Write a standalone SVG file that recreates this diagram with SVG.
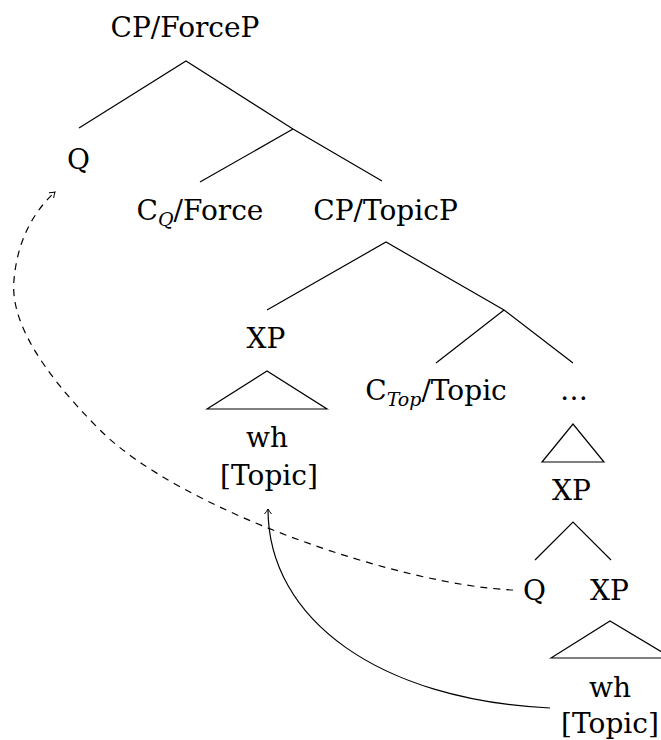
<svg xmlns="http://www.w3.org/2000/svg" width="661" height="740" viewBox="0 0 661 740">
<style>
text{font-family:"DejaVu Serif","Liberation Serif",serif;font-size:28px;fill:#000;text-anchor:middle}
.sub{font-size:19px;font-style:italic}
.e{stroke:#000;stroke-width:1.2;fill:none}
.tri{stroke:#000;stroke-width:1.2;fill:none;stroke-linejoin:miter}
.mv{stroke:#000;stroke-width:1.2;fill:none}
.dash{stroke-dasharray:7,6}
</style>
<defs>
<marker id="ah" markerWidth="10" markerHeight="10" refX="0" refY="0" viewBox="-6 -5 8 10" orient="auto" markerUnits="userSpaceOnUse">
<path d="M-5,-3.5 Q-2,-1 0,0 Q-2,1 -5,3.5" fill="none" stroke="#000" stroke-width="1"/>
</marker>
</defs>
<rect width="661" height="740" fill="#fff"/>
<g id="edges">
<path class="e" d="M79,128 L186,61 L293,129 L382,181"/>
<path class="e" d="M200,182 L293,129"/>
<path class="e" d="M267,310 L386,242 L504,310 L573,363"/>
<path class="e" d="M436,363 L504,310"/>
<path class="tri" d="M207,409 L267,371 L327,409 Z"/>
<path class="tri" d="M542,462 L573,424 L604,462 Z"/>
<path class="e" d="M535,560 L573,522 L611,560"/>
<path class="tri" d="M551,658 L610,621 L672,658 Z"/>
</g>
<g id="movement">
<path class="mv dash" d="M513,590 C400,585 180,510 100,430 C40,370 10,320 14,280 C17,245 30,215 55,192" marker-end="url(#ah)"/>
<path class="mv" d="M550,708 C380,700 268,620 268,509" marker-end="url(#ah)"/>
</g>
<g id="n-cpforce"><text x="185" y="37">CP/ForceP</text></g>
<g id="n-q-top"><text x="78.5" y="169">Q</text></g>
<g id="n-cq"><text x="200" y="220">C<tspan class="sub" dy="6">Q</tspan><tspan dy="-6">/Force</tspan></text></g>
<g id="n-cptopic"><text x="385.5" y="220">CP/TopicP</text></g>
<g id="n-xp1"><text x="266" y="348">XP</text></g>
<g id="n-wh1"><text x="267" y="447">wh</text><text x="269" y="485">[Topic]</text></g>
<g id="n-ctop"><text x="436" y="400">C<tspan class="sub" dy="6">Top</tspan><tspan dy="-6">/Topic</tspan></text></g>
<g id="n-dots"><text x="574" y="400">…</text></g>
<g id="n-xp2"><text x="571.5" y="500">XP</text></g>
<g id="n-q-low"><text x="534.5" y="600">Q</text></g>
<g id="n-xp3"><text x="609.5" y="600">XP</text></g>
<g id="n-wh2"><text x="610" y="697">wh</text><text x="610" y="733">[Topic]</text></g>
</svg>
